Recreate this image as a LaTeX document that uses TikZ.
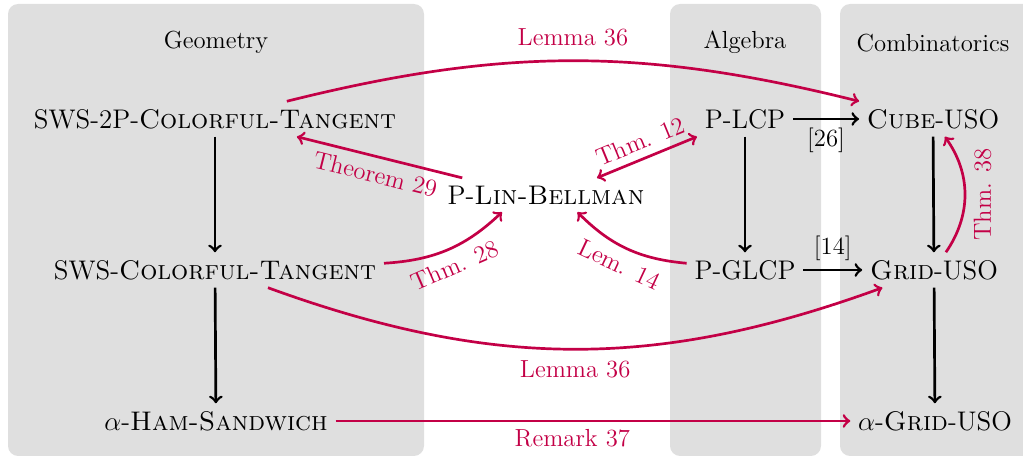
\documentclass[tikz,border=0pt]{standalone}
\usetikzlibrary{calc}
\definecolor{lemred}{RGB}{195,0,70}
\begin{document}
\begin{tikzpicture}[x=0.4455pt,y=0.4455pt,
  every node/.style={font=\fontsize{12}{14.5}\selectfont},
  heading/.style={font=\fontsize{11}{13.6}\selectfont},
  bgbox/.style={fill=gray!25, rounded corners=4.5pt},
  blk/.style={->, line width=1.2pt},
  redarr/.style={->, line width=1.2pt, lemred},
  rlabel/.style={font=\fontsize{11}{13.6}\selectfont, text=lemred},
  blabel/.style={font=\fontsize{11}{13.6}\selectfont, text=black},
]
\useasboundingbox (0,0) rectangle (1023,-458);
% backgrounds
\fill[bgbox] (8,-4) rectangle (424,-456);
\fill[bgbox] (670,-4) rectangle (821,-456);
\fill[bgbox] (840,-4) rectangle (1040,-456);
% headings
\node[heading] (hgeo) at (216,-42) {Geometry};
\node[heading] (halg) at (745,-42) {Algebra};
\node[heading] (hcomb) at (933,-43) {Combinatorics};
% nodes
\node (s2p) at (215,-119) {SWS-2P-\textsc{Colorful-Tangent}};
\node (sct) at (215,-270) {SWS-\textsc{Colorful-Tangent}};
\node (aham) at (216,-421) {$\alpha$-\textsc{Ham-Sandwich}};
\node (plb) at (546,-195) {P-\textsc{Lin-Bellman}};
\node (plcp) at (745,-119) {P-LCP};
\node (pglcp) at (745,-270) {P-GLCP};
\node (cube) at (933,-119) {\textsc{Cube}-USO};
\node (grid) at (934,-270) {\textsc{Grid}-USO};
\node (agrid) at (935,-421) {$\alpha$-\textsc{Grid}-USO};
% black arrows
\draw[blk] (s2p) -- (sct);
\draw[blk] (sct) -- (aham);
\draw[blk] (plcp) -- (pglcp);
\draw[blk] (plcp) -- node[blabel, below] {[26]} (cube);
\draw[blk] (pglcp) -- node[blabel, above] {[14]} (grid);
\draw[blk] (cube) -- (grid);
\draw[blk] (grid) -- (agrid);
% red arrows
\draw[redarr] ([xshift=32pt]s2p.north) to[bend left=14] node[rlabel, above=2.5pt] {Lemma 36} (cube.north west);
\draw[redarr] ([xshift=23.6pt]sct.south) to[bend right=20] node[rlabel, below=1pt] {Lemma 36} ([xshift=-23pt]grid.south);
\draw[redarr] (aham) -- node[rlabel, below, pos=0.46] {Remark 37} (agrid);
\draw[redarr, <-] ([xshift=36.5pt]s2p.south) -- node[rlabel, below, sloped] {Theorem 29} ([xshift=10pt]plb.north west);
\draw[redarr] ([yshift=3pt]sct.east) to[bend right=20] node[rlabel, below, sloped] {Thm. 28} ([xshift=-19.6pt]plb.south);
\draw[redarr, <-] ([xshift=14pt]plb.south) to[bend right=20] node[rlabel, below, sloped] {Lem. 14} ([yshift=3pt]pglcp.west);
\draw[redarr, <->] ([xshift=22.7pt]plb.north) -- node[rlabel, above, sloped] {Thm. 12} (plcp.south west);
\draw[redarr] ([xshift=5.3pt]grid.north) to[bend right=35] node[rlabel, below, rotate=90] {Thm. 38} ([xshift=5.3pt]cube.south);
\end{tikzpicture}
\end{document}
